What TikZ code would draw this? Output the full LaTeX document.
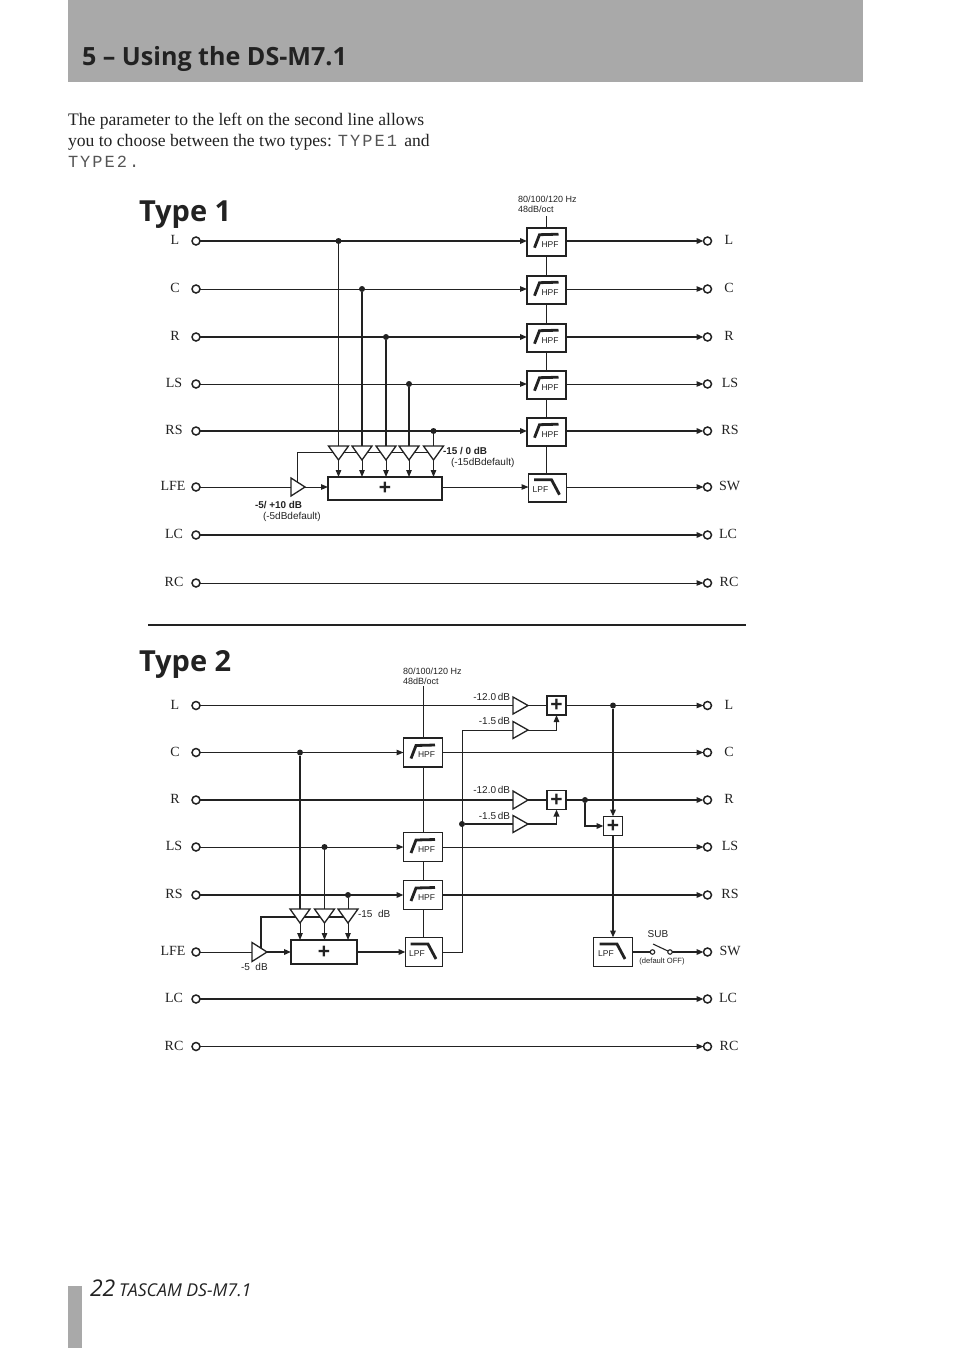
\documentclass[tikz,border=0pt]{standalone}
\usepackage{fontspec}
\setmainfont{Liberation Serif}
\newfontfamily\hdfont{Open Sans}
\newfontfamily\smfont{Liberation Sans}
\newfontfamily\lcdfont[LetterSpace=12]{Liberation Mono}
\usetikzlibrary{arrows.meta,shapes.geometric,backgrounds}
\definecolor{ink}{HTML}{222222}
\definecolor{band}{HTML}{A9A9A9}
\definecolor{lcd}{HTML}{555555}
\tikzset{
 x=1pt,y=-1pt,
 every node/.style={text=ink,inner sep=0pt,outer sep=0pt},
 thinw/.style={draw=ink,line width=1pt},
 thickw/.style={draw=ink,line width=1.9pt},
 tip/.style={-{Triangle[length=7pt,width=5.5pt]}},
 term/.style={circle,draw=ink,fill=white,line width=1.5pt,minimum size=8pt},
 rowlabel/.style={font=\fontsize{14}{16}\selectfont},
 filter/.style={rectangle,draw=ink,fill=white,line width=1.6pt,minimum width=39pt,minimum height=28pt},
 ampdown/.style={isosceles triangle,isosceles triangle stretches,shape border rotate=270,draw=ink,fill=white,line width=1.3pt,minimum width=20pt,minimum height=14pt,anchor=apex},
 ampright/.style={isosceles triangle,isosceles triangle stretches,draw=ink,fill=white,line width=1.3pt,minimum width=18pt,minimum height=14pt,anchor=apex},
 sumbox/.style={rectangle,draw=ink,fill=white,line width=1.5pt,font=\smfont\bfseries\fontsize{21}{21}\selectfont},
 small/.style={font=\smfont\fontsize{10}{11}\selectfont},
 smallb/.style={font=\smfont\bfseries\fontsize{9.9}{11}\selectfont},
 note/.style={font=\smfont\fontsize{9}{9.5}\selectfont},
 tiny/.style={font=\smfont\fontsize{7.6}{9}\selectfont},
 dotn/.style={circle,fill=ink,minimum size=6pt},
 pin/.style={circle,draw=ink,fill=white,line width=1.1pt,minimum size=4.5pt},
 heading/.style={font=\hdfont\bfseries\fontsize{29}{36}\selectfont,text=ink,anchor=base west},
 icon/.style={draw=ink,line width=2.8pt},
 filtertext/.style={font=\smfont\fontsize{8.5}{10}\selectfont},
}
\newcommand{\lcdtype}[1]{{\lcdfont\fontsize{17}{21}\selectfont\color{lcd}#1}}
\newcommand{\hpficon}[1]{%
 \draw[icon] ([shift={(-12,6)}]#1.center) -- ([shift={(-7,-7)}]#1.center) -- ([shift={(12,-7.5)}]#1.center);
 \node[filtertext] (#1txt) at ([shift={(3.5,2.5)}]#1.center) {HPF};}
\newcommand{\lpficon}[1]{%
 \draw[icon] ([shift={(-13.5,-8)}]#1.center) -- ([shift={(4,-8)}]#1.center) -- ([shift={(12,7)}]#1.center);
 \node[filtertext] (#1txt) at ([shift={(-7,2)}]#1.center) {LPF};}
\begin{document}
\begin{tikzpicture}
\useasboundingbox (0,0) rectangle (954,1351);
% page furniture
\fill[band] (68,0) rectangle (863,82);
\fill[band] (68,1286) rectangle (82,1348);
\node[font=\hdfont\bfseries\fontsize{25.1}{30}\selectfont,anchor=base west] (title) at (82,66) {5 – Using the DS-M7.1};
\node[anchor=north west,align=left,font=\fontsize{17.6}{21}\selectfont] (para) at (68,112.8) {The parameter to the left on the second line allows\\you to choose between the two types: \lcdtype{TYPE1}\, and\\\lcdtype{TYPE2.}};
\node[heading] (type1) at (139,222) {Type 1};
\node[heading] (type2) at (139,671.5) {Type 2};
\coordinate (sepa) at (148,625);
\coordinate (sepb) at (746,625);
\draw[draw=ink,line width=2.8pt] (sepa) -- (sepb);
\node[anchor=base west,font=\hdfont\itshape\fontsize{23}{25}\selectfont] (pg) at (90,1296) {22};
\node[anchor=base west,font=\hdfont\itshape\fontsize{17.7}{20}\selectfont] (brand) at (119,1296) {TASCAM DS-M7.1};

% ===== TYPE 1 =====
\foreach \n/\lab/\y/\lx/\rlab/\rx in {L/L/241/175/L/729,C/C/289/175/C/729,R/R/337/175/R/729,LS/LS/384/174/LS/730,RS/RS/431/174/RS/730,LFE/LFE/487/173/SW/729.5,LC/LC/535/174/LC/728,RC/RC/583/174/RC/729}{
 \node[term] (aI\n) at (196,\y) {};
 \node[term] (aO\n) at (707.5,\y) {};
 \node[rowlabel] (aIl\n) at (\lx,\y-1.5) {\lab};
 \node[rowlabel] (aOl\n) at (\rx,\y-1.5) {\rlab};
}
\foreach \n/\y in {L/241,C/289,R/337,LS/384,RS/431}{
 \node[filter] (aH\n) at (546.5,\y+0.7) {};
 \hpficon{aH\n}
}
\node[filter,minimum width=38pt] (aLP) at (547.5,487.7) {};
\lpficon{aLP}
\node[sumbox,minimum width=114pt,minimum height=23pt] (aSum) at (385,488.5) {+};
\foreach \n/\x/\y in {L/338.5/241,C/362/289,R/386/337,LS/409/384,RS/433.5/431}{
 \node[dotn] (aD\n) at (\x,\y) {};
 \node[ampdown] (aA\n) at (\x,460) {};
}
\node[ampright] (aAmp) at (305,487) {};
\coordinate (aTop) at (546.5,216);
\coordinate (aBus) at (297,452.5);
\node[note,anchor=south west,align=left] (aNote) at (518,212.5) {80/100/120 Hz\\48dB/oct};
\node[smallb,anchor=west] (aG1) at (443,451) {-15 / 0 dB};
\node[small,anchor=west] (aG1d) at (451,463) {(-15dBdefault)};
\node[smallb,anchor=west] (aG2) at (255,505) {-5/ +10 dB};
\node[small,anchor=west] (aG2d) at (263,516.5) {(-5dBdefault)};
\begin{scope}[on background layer]
 \draw[thinw] (aTop) -- (aHL.north);
 \draw[thinw] (aHL.south) -- (aLP.north -| aHL.south);
 \foreach \n in {L,R,RS}{
  \draw[thickw,tip] (aI\n) -- (aI\n -| aH\n.west);
  \draw[thickw,tip] (aO\n -| aH\n.east) -- (aO\n.west);
 }
 \foreach \n in {C,LS}{
  \draw[thinw,tip] (aI\n) -- (aI\n -| aH\n.west);
  \draw[thinw,tip] (aO\n -| aH\n.east) -- (aO\n.west);
 }
 \draw[thinw] (aDL) -- (aAL.apex);
 \foreach \n in {C,R,LS}{\draw[thickw] (aD\n) -- (aA\n.apex);}
 \draw[thinw] (aDRS) -- (aARS.apex);
 \foreach \n in {L,C,R,LS,RS}{\draw[thinw,tip] (aA\n.apex) -- (aA\n.apex |- aSum.north);}
 \draw[thinw] (aBus |- aAmp.apex) -- (aBus) -- (aARS.apex |- aBus);
 \draw[thinw] (aILFE) -- (aAmp.apex);
 \draw[thinw,tip] (aAmp.apex) -- (aAmp.apex -| aSum.west);
 \draw[thinw,tip] (aSum.east |- aOLFE) -- (aOLFE -| aLP.west);
 \draw[thinw,tip] (aOLFE -| aLP.east) -- (aOLFE.west);
 \draw[thickw,tip] (aILC) -- (aOLC.west);
 \draw[thinw,tip] (aIRC) -- (aORC.west);
\end{scope}

% ===== TYPE 2 =====
\foreach \n/\lab/\y/\lx/\rlab/\rx in {L/L/705.5/175/L/729,C/C/752.5/175/C/729,R/R/800/175/R/729,LS/LS/847/174/LS/730,RS/RS/895/174/RS/730,LFE/LFE/952/173/SW/730,LC/LC/999/174/LC/728,RC/RC/1046.5/174/RC/729}{
 \node[term] (bI\n) at (196,\y) {};
 \node[term] (bO\n) at (707.5,\y) {};
 \node[rowlabel] (bIl\n) at (\lx,\y-1) {\lab};
 \node[rowlabel] (bOl\n) at (\rx,\y-1) {\rlab};
}
\foreach \n/\y in {C/752.5,LS/847,RS/895}{
 \node[filter,minimum height=29pt] (bH\n) at (423,\y) {};
 \hpficon{bH\n}
}
\node[filter,minimum width=37pt,minimum height=29pt] (bLP) at (424,952) {};
\lpficon{bLP}
\node[filter,minimum width=39pt,minimum height=29pt] (bLQ) at (613,952) {};
\lpficon{bLQ}
\node[sumbox,minimum width=66pt,minimum height=24pt] (bSum) at (324,952) {+};
\node[sumbox,minimum width=19pt,minimum height=19pt] (bS1) at (556.5,705.5) {+};
\node[sumbox,minimum width=19pt,minimum height=19pt] (bS2) at (556.5,800) {+};
\node[sumbox,minimum width=19pt,minimum height=19pt] (bS3) at (613,826) {+};
\foreach \n/\x/\y in {C/300/752.5,LS/324.5/847,RS/348/895}{
 \node[dotn] (bD\n) at (\x,\y) {};
 \node[ampdown] (bA\n) at (\x,923) {};
}
\node[ampright,minimum width=19pt,minimum height=15pt] (bAmp) at (267,952) {};
\node[ampright,minimum width=17pt,minimum height=15pt] (bG1) at (528,705.5) {};
\node[ampright,minimum width=17pt,minimum height=15pt] (bG2) at (528,730) {};
\node[ampright,minimum width=18pt,minimum height=15pt] (bG3) at (528,800) {};
\node[ampright,minimum width=17pt,minimum height=15pt] (bG4) at (528,824) {};
\node[dotn] (bJ1) at (613,705.5) {};
\node[dotn] (bJ2) at (585,800) {};
\node[dotn] (bJ3) at (462,824) {};
\node[pin] (bP1) at (652.5,952) {};
\node[pin] (bP2) at (670,952) {};
\coordinate (bArm) at (653,944);
\coordinate (bTop) at (423.5,686);
\coordinate (bBus) at (261,917);
\coordinate (bRise) at (462,952);
\node[note,anchor=south west,align=left] (bNote) at (403,684.5) {80/100/120 Hz\\48dB/oct};
\node[small,anchor=east] (bL1) at (510,697) {-12.0\,dB};
\node[small,anchor=east] (bL2) at (510,720.5) {-1.5\,dB};
\node[small,anchor=east] (bL3) at (510,789.5) {-12.0\,dB};
\node[small,anchor=east] (bL4) at (510,815.5) {-1.5\,dB};
\node[small,anchor=west] (bL5) at (358,914) {-15~ dB};
\node[small,anchor=west] (bL6) at (241,966.5) {-5~ dB};
\node[small] (bSub) at (658,934) {SUB};
\node[tiny] (bOff) at (662,962) {(default OFF)};
\begin{scope}[on background layer]
 \draw[thinw] (bTop) -- (bHC.north -| bTop);
 \draw[thinw] (bHC.south -| bTop) -- (bHLS.north -| bTop);
 \draw[thinw] (bHLS.south -| bTop) -- (bHRS.north -| bTop);
 \draw[thinw] (bHRS.south -| bTop) -- (bLP.north -| bTop);
 % L row
 \draw[thinw] (bIL) -- (bG1.apex);
 \draw[thinw] (bG1.apex) -- (bS1.west);
 \draw[thinw,tip] (bS1.east) -- (bOL.west);
 % C row
 \draw[thinw,tip] (bIC) -- (bHC.west);
 \draw[thinw,tip] (bHC.east) -- (bOC.west);
 % R row
 \draw[thickw] (bIR) -- (bG3.apex);
 \draw[thickw] (bG3.apex) -- (bS2.west);
 \draw[thickw,tip] (bS2.east) -- (bOR.west);
 % LS
 \draw[thinw,tip] (bILS) -- (bHLS.west);
 \draw[thinw,tip] (bHLS.east) -- (bOLS.west);
 % RS
 \draw[thickw,tip] (bIRS) -- (bHRS.west);
 \draw[thickw,tip] (bHRS.east) -- (bORS.west);
 % sum inputs
 \draw[thinw,tip] (bG2.apex) -| (bS1.south);
 \draw[thickw,tip] (bG4.apex) -| (bS2.south);
 % LPF output bus
 \draw[thinw] (bLP.east) -- (bRise) -- (bRise |- bG2.apex) -- (bG2);
 \draw[thickw] (bJ3) -- (bG4);
 % matrix to third summer
 \draw[thickw,tip] (bJ1) -- (bS3.north);
 \draw[thickw,tip] (bS3.south) -- (bLQ.north -| bS3.south);
 \draw[thickw,tip] (bJ2) |- (bS3.west);
 % bass management
 \draw[thickw] (bDC) -- (bAC.apex);
 \draw[thinw] (bDLS) -- (bALS.apex);
 \draw[thinw] (bDRS) -- (bARS.apex);
 \foreach \n in {C,LS,RS}{\draw[thinw,tip] (bA\n.apex) -- (bA\n.apex |- bSum.north);}
 \draw[thickw] (bBus |- bAmp.apex) -- (bBus) -- (bARS.apex |- bBus);
 \draw[thinw] (bILFE) -- (bAmp.apex);
 \draw[thickw,tip] (bAmp.apex) -- (bSum.west);
 \draw[thickw,tip] (bSum.east) -- (bLP.west);
 % switch
 \draw[thickw] (bLQ.east) -- (bP1);
 \draw[draw=ink,line width=1.1pt] (bArm) -- (bP2);
 \draw[thickw,tip] (bP2) -- (bOLFE.west);
 % LC, RC
 \draw[thickw,tip] (bILC) -- (bOLC.west);
 \draw[thinw,tip] (bIRC) -- (bORC.west);
\end{scope}
\end{tikzpicture}
\end{document}
